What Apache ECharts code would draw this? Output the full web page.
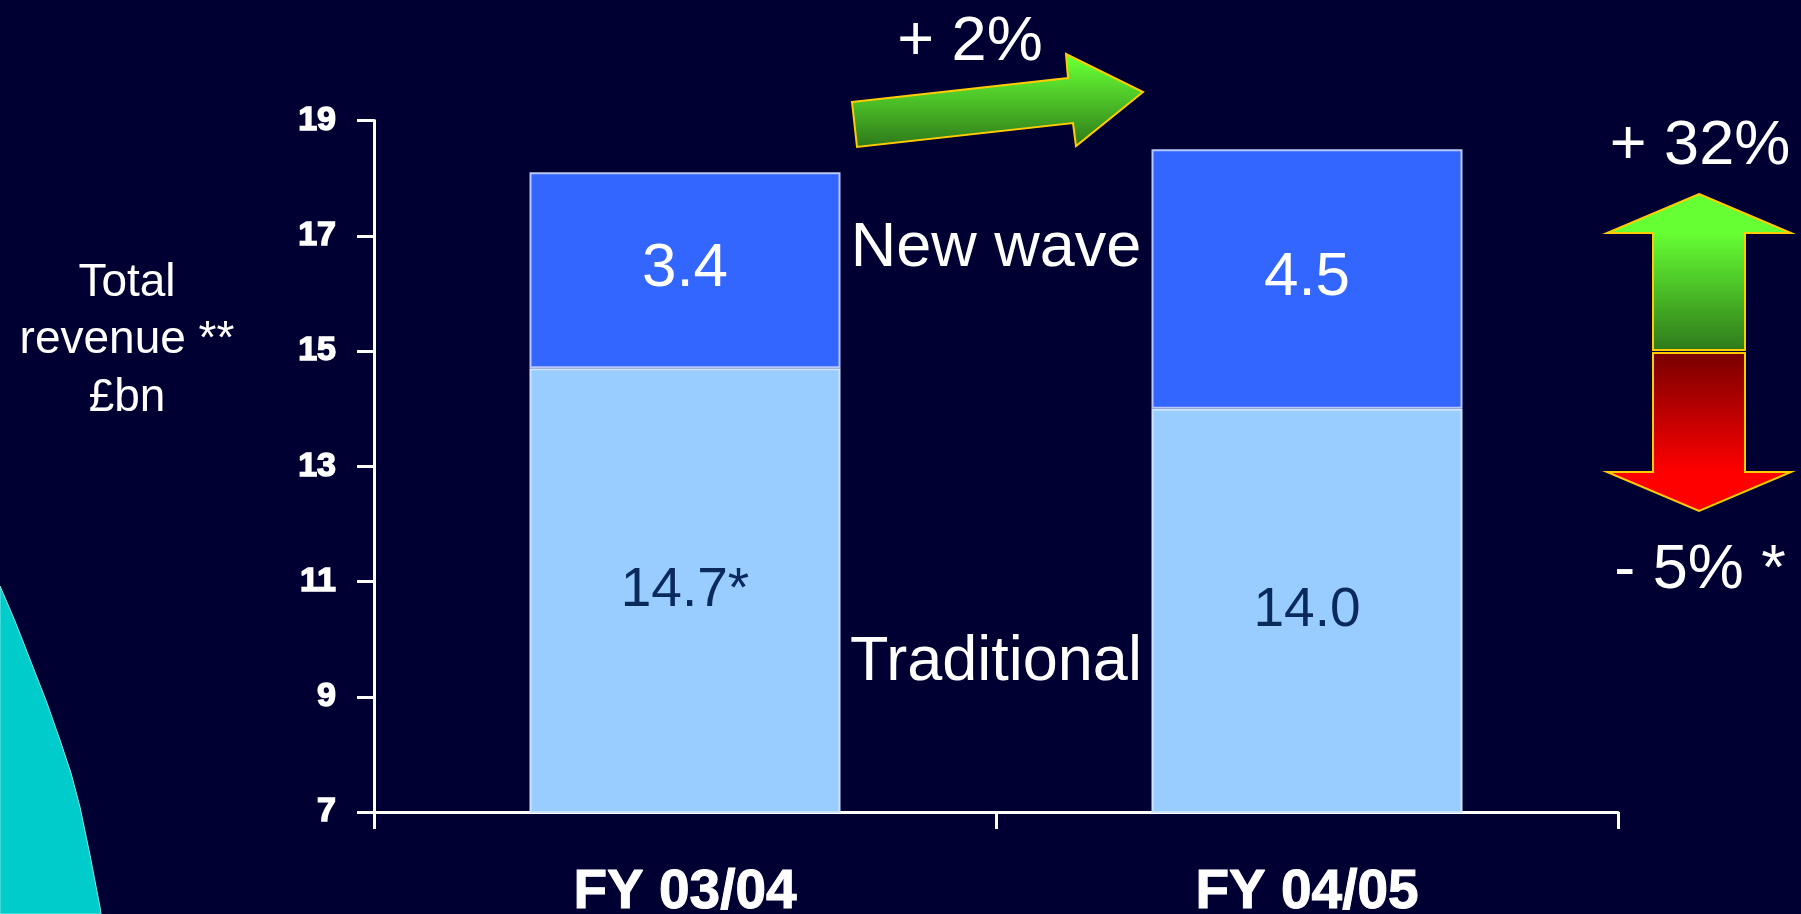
<!DOCTYPE html>
<html>
<head>
<meta charset="utf-8">
<title>Total revenue</title>
<script src="https://cdn.jsdelivr.net/npm/echarts@6/dist/echarts.min.js"></script>
<style>
  html, body { margin: 0; padding: 0; background: #000033; }
  #chart { width: 1801px; height: 914px; }
</style>
</head>
<body>
<div id="chart"></div>
<script>
// Financial years on the category axis
const categories = ['FY 03/04', 'FY 04/05'];
// Revenue split, £bn
const traditional = [14.7, 14.0];
const newWave = [3.4, 4.5];
// Footnote marks appended to the traditional labels
const traditionalNotes = ['*', ''];
// Value-axis ticks
const yTicks = [7, 9, 11, 13, 15, 17, 19];

const chart = echarts.init(document.getElementById('chart'), null, { renderer: 'canvas' });

const sans = "'Liberation Sans', Arial, sans-serif";
const gold = '#FFCC00';

function vGrad(y0, y1, c0, c1) {
  return new echarts.graphic.LinearGradient(0, y0, 0, y1, [
    { offset: 0, color: c0 },
    { offset: 1, color: c1 }
  ], true);
}

function label(text, x, y, size) {
  return {
    type: 'text', z: 10, x: x, y: y,
    style: { text: text, fill: '#FFFFFF', font: size + 'px ' + sans, textAlign: 'center', textVerticalAlign: 'middle' }
  };
}

const option = {
  backgroundColor: '#000033',
  animation: false,
  grid: { left: 374, right: 183, top: 120.5, bottom: 102, containLabel: false, outerBoundsMode: 'none' },
  xAxis: {
    type: 'category',
    data: categories,
    boundaryGap: true,
    axisLine: { show: true, lineStyle: { color: '#FFFFFF', width: 3 } },
    axisTick: { show: true, length: 17, alignWithLabel: false, lineStyle: { color: '#FFFFFF', width: 3 } },
    axisLabel: {
      color: '#FFFFFF',
      fontFamily: sans,
      fontWeight: 'bold',
      fontSize: 55,
      lineHeight: 55,
      margin: 53,
      textBorderColor: '#FFFFFF',
      textBorderWidth: 1
    },
    splitLine: { show: false }
  },
  yAxis: {
    type: 'value',
    min: yTicks[0],
    max: yTicks[yTicks.length - 1],
    axisLine: { show: true, lineStyle: { color: '#FFFFFF', width: 3 } },
    axisTick: { show: true, length: 17, customValues: yTicks, lineStyle: { color: '#FFFFFF', width: 3 } },
    axisLabel: {
      customValues: yTicks,
      color: '#FFFFFF',
      fontFamily: sans,
      fontWeight: 'bold',
      fontSize: 34,
      margin: 38,
      textBorderColor: '#FFFFFF',
      textBorderWidth: 1.5
    },
    splitLine: { show: false }
  },
  series: [
    {
      name: 'Traditional',
      type: 'bar',
      stack: 'revenue',
      barWidth: '50%',
      data: traditional,
      itemStyle: { color: '#99CCFF', borderColor: '#CCE4FF', borderWidth: 2 },
      label: {
        show: true,
        position: 'inside',
        color: '#0B2A5C',
        fontFamily: sans,
        fontSize: 55,
        formatter: p => p.value.toFixed(1) + traditionalNotes[p.dataIndex]
      }
    },
    {
      name: 'New wave',
      type: 'bar',
      stack: 'revenue',
      barWidth: '50%',
      data: newWave,
      itemStyle: { color: '#3366FF', borderColor: '#B8C8FF', borderWidth: 2 },
      label: {
        show: true,
        position: 'inside',
        offset: [0, -1],
        color: '#FFFFFF',
        fontFamily: sans,
        fontSize: 62,
        formatter: p => p.value.toFixed(1)
      }
    }
  ],
  graphic: [
    // cyan swoosh in the lower-left corner
    {
      type: 'polygon',
      z: 0,
      shape: {
        points: [[0, 586], [15, 621], [33, 667], [47, 703], [60, 740], [71, 773], [80, 807], [90, 855], [100, 907], [101, 914], [0, 914]]
      },
      style: { fill: '#00CCCC', stroke: '#7FE6E6', lineWidth: 1 }
    },
    // axis title
    label('Total', 127, 283, 46),
    label('revenue **', 127, 340, 46),
    label('£bn', 127, 398, 46),
    // segment names between the bars
    label('New wave', 996, 249, 63),
    label('Traditional', 996, 663, 63),
    // total growth arrow
    {
      type: 'polygon', z: 10,
      shape: { points: [[852, 102], [1068, 78], [1066, 54], [1143, 92], [1076, 146], [1073, 123], [857, 147]] },
      style: { fill: vGrad(60, 146, '#66FF33', '#2F7A1A'), stroke: gold, lineWidth: 2 }
    },
    label('+ 2%', 970, 43, 63),
    // split arrows: new wave up, traditional down
    {
      type: 'polygon', z: 10,
      shape: { points: [[1699, 194], [1791, 233], [1745, 233], [1745, 350], [1653, 350], [1653, 233], [1607, 233]] },
      style: { fill: vGrad(233, 350, '#66FF33', '#2F7A1A'), stroke: gold, lineWidth: 2 }
    },
    {
      type: 'polygon', z: 10,
      shape: { points: [[1653, 353], [1745, 353], [1745, 472], [1791, 472], [1699, 511], [1607, 472], [1653, 472]] },
      style: { fill: vGrad(353, 472, '#780000', '#FF0000'), stroke: gold, lineWidth: 2 }
    },
    label('+ 32%', 1700, 147, 63),
    label('- 5% *', 1700, 571, 63)
  ]
};

chart.setOption(option);
</script>
</body>
</html>
